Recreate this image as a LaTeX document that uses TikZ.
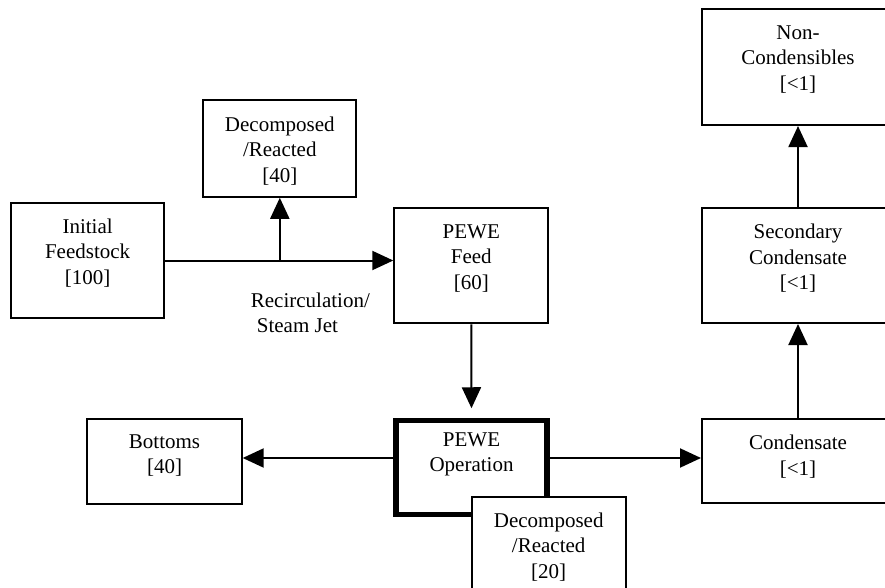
\documentclass[tikz,border=0pt]{standalone}
\usepackage{fontspec}
\setmainfont{Liberation Serif}
\usetikzlibrary{arrows.meta}
\begin{document}
\begin{tikzpicture}[x=1pt,y=-1pt,
  box/.style={draw, line width=2pt, fill=white, rectangle, inner sep=0pt},
  thickbox/.style={box, line width=5.5pt},
  txt/.style={align=center, inner sep=0pt, anchor=north, font=\fontsize{21}{25.5}\selectfont},
  arr/.style={line width=2pt, -{Triangle[length=21pt,width=19pt]}}]
\useasboundingbox (0,0) rectangle (885,588);
\fill[white] (0,0) rectangle (885,588);
\clip (0,0) rectangle (885,588);
% boxes
\node[box, minimum width=153pt, minimum height=115.6pt] (init) at (87.6,260.5) {};
\node[box, minimum width=153pt, minimum height=96.7pt] (dec40) at (279.8,148.4) {};
\node[box, minimum width=154pt, minimum height=115pt] (feed) at (471.3,265.8) {};
\node[thickbox, minimum width=151pt, minimum height=94pt] (op) at (471.5,467.5) {};
\node[box, minimum width=154.4pt, minimum height=85pt] (bottoms) at (164.5,461.5) {};
\node[box, minimum width=192pt, minimum height=84pt] (cond) at (798,461.3) {};
\node[box, minimum width=192pt, minimum height=115pt] (sec) at (798,265.5) {};
\node[box, minimum width=192pt, minimum height=115.7pt] (noncond) at (798,67.2) {};
\node[box, minimum width=154pt, minimum height=115pt] (dec20) at (548.7,554.2) {};
% texts
\node[txt] (initT) at ([yshift=-17pt]init.north) {Initial\\Feedstock\\{[100]}};
\node[txt] (dec40T) at ([yshift=-17.5pt]dec40.north) {Decomposed\\/Reacted\\{[40]}};
\node[txt] (feedT) at ([yshift=-17pt]feed.north) {PEWE\\Feed\\{[60]}};
\node[txt] (opT) at ([yshift=-14.5pt]op.north) {PEWE\\Operation};
\node[txt] (bottomsT) at ([yshift=-16.5pt]bottoms.north) {Bottoms\\{[40]}};
\node[txt] (condT) at ([yshift=-16.5pt]cond.north) {Condensate\\{[<1]}};
\node[txt] (secT) at ([yshift=-17pt]sec.north) {Secondary\\Condensate\\{[<1]}};
\node[txt] (noncondT) at ([yshift=-17pt]noncond.north) {Non-\\Condensibles\\{[<1]}};
\node[txt] (dec20T) at ([yshift=-17pt]dec20.north) {Decomposed\\/Reacted\\{[20]}};
\node[txt, anchor=north west, align=left] (recirc) at (250.7,292.7) {Recirculation/\\\hspace*{6pt}Steam Jet};
% connectors
\draw[arr] (init.east) -- (init.east -| feed.west);
\draw[arr] (dec40.south |- init.east) -- (dec40.south);
\draw[arr, shorten >=9.5pt] (feed.south) -- (op.north);
\coordinate (opL) at ([yshift=9.5pt]op.west);
\coordinate (opR) at ([yshift=9.5pt]op.east);
\draw[arr] (opL) -- (opL -| bottoms.east);
\draw[arr] (opR) -- (opR -| cond.west);
\draw[arr] (cond.north) -- (sec.south);
\draw[arr] (sec.north) -- (noncond.south);
\end{tikzpicture}
\end{document}
